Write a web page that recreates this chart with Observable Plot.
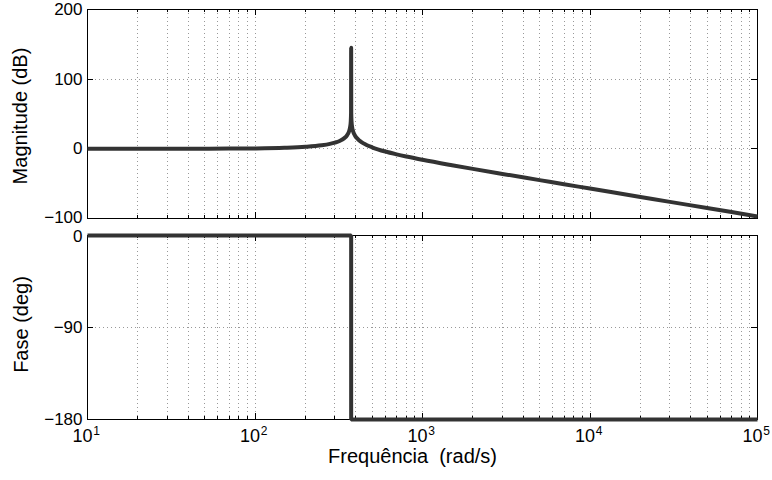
<!DOCTYPE html>
<html>
<head>
<meta charset="utf-8">
<script src="https://cdn.jsdelivr.net/npm/d3@7"></script>
<script src="https://cdn.jsdelivr.net/npm/@observablehq/plot@0.6"></script>
<style>
  html, body { margin: 0; padding: 0; background: #fff; }
  #chart { width: 772px; height: 480px; }
  #chart svg { display: block; }
</style>
</head>
<body>
<div id="chart"></div>
<script>
// ---- data ----
const freq = [10, 20, 30, 50, 70, 100, 150, 200, 250, 280, 300, 320, 340, 355, 365, 370, 373, 374.5, 375, 375.5, 377, 380, 385, 395, 410, 430, 460, 500, 600, 700, 800, 1000, 1500, 2000, 3000, 5000, 7000, 10000, 20000, 30000, 50000, 70000, 100000];
const magDb = [0.0, 0.0, 0.1, 0.2, 0.3, 0.6, 1.5, 2.9, 5.1, 7.1, 8.9, 11.3, 15.0, 19.7, 25.6, 31.5, 39.5, 51.5, 145, 51.5, 39.4, 31.4, 25.3, 19.2, 14.2, 10.0, 5.9, 2.2, -3.9, -7.9, -11.0, -15.7, -23.5, -28.8, -36.0, -44.9, -50.8, -57.0, -69.1, -76.1, -85.0, -90.8, -97.0];
const phaseFreq = [10, 375, 375, 100000];
const phaseDeg = [0, 0, -180, -180];

const xDecades = [10, 100, 1000, 10000, 100000];
const xExponents = ["1", "2", "3", "4", "5"];
const magTicks = [-100, 0, 100, 200];
const magTickLabels = ["\u2212100", "0", "100", "200"];
const phaseTicks = [-180, -90, 0];
const phaseTickLabels = ["\u2212180", "\u221290", "0"];

// ---- derived tables ----
const magData = freq.map((f, i) => ({f, v: magDb[i]}));
const phaseData = phaseFreq.map((f, i) => ({f, v: phaseDeg[i]}));
const magLabelData = magTicks.map((t, i) => ({t, s: magTickLabels[i]}));
const phaseLabelData = phaseTicks.map((t, i) => ({t, s: phaseTickLabels[i]}));
const minorX = [];
for (let d = 10; d < 100000; d *= 10) for (let m = 2; m <= 9; m++) minorX.push(d * m);
const innerMajorX = xDecades.slice(1, -1);
const decadeTable = xDecades.map((d, i) => ({d, e: xExponents[i]}));

const FONT = "'Liberation Sans', Arial, Helvetica, sans-serif";
const W = 772, ML = 87, MR = 15;
const PW = W - ML - MR;
const LINE = "#333333";
const GRID = {stroke: "#999999", strokeDasharray: "1,3", strokeWidth: 1, shapeRendering: "crispEdges"};
const TICK = {stroke: "#000", strokeWidth: 1, shapeRendering: "crispEdges"};
const MAJ = 6, MIN = 3;
const TICKFS = 17;

function tickMarks(ph, yTicks) {
  return [
    Plot.ruleX(xDecades, {x: d => d, insetTop: ph - MAJ, ...TICK}),
    Plot.ruleX(xDecades, {x: d => d, insetBottom: ph - MAJ, ...TICK}),
    Plot.ruleX(minorX, {x: d => d, insetTop: ph - MIN, ...TICK}),
    Plot.ruleX(minorX, {x: d => d, insetBottom: ph - MIN, ...TICK}),
    Plot.ruleY(yTicks, {y: d => d, insetRight: PW - MAJ, ...TICK}),
    Plot.ruleY(yTicks, {y: d => d, insetLeft: PW - MAJ, ...TICK})
  ];
}

// ---- top: magnitude ----
const topH = 226, topMT = 9, topMB = 8;
const topPH = topH - topMT - topMB;
const topPlot = Plot.plot({
  width: W, height: topH,
  marginLeft: ML, marginRight: MR, marginTop: topMT, marginBottom: topMB,
  style: {fontFamily: FONT, fontSize: "17px", background: "white", color: "#000", overflow: "visible"},
  x: {type: "log", domain: [10, 100000], axis: null},
  y: {domain: [-100, 200], axis: null},
  marks: [
    Plot.ruleX(minorX.concat(innerMajorX), {x: d => d, ...GRID}),
    Plot.ruleY([0, 100], {y: d => d, ...GRID}),
    ...tickMarks(topPH, magTicks),
    Plot.frame({stroke: "#000", strokeWidth: 1, shapeRendering: "crispEdges"}),
    Plot.text(magLabelData.filter(d => d.t > -100), {y: "t", frameAnchor: "left", text: "s", textAnchor: "end", dx: -5, fontSize: TICKFS, fill: "#000"}),
    Plot.text(magLabelData.filter(d => d.t === -100), {y: "t", frameAnchor: "left", text: "s", textAnchor: "end", dx: -5, dy: -1, fontSize: TICKFS, fill: "#000"}),
    Plot.text(["Magnitude (dB)"], {frameAnchor: "left", text: d => d, rotate: -90, textAnchor: "middle", dx: -67, dy: 2, fontSize: 20, fill: "#000"}),
    Plot.line(magData, {x: "f", y: "v", stroke: LINE, strokeWidth: 4, curve: "monotone-x", strokeLinecap: "butt", strokeLinejoin: "round"})
  ]
});

// ---- bottom: phase ----
const botH = 254, botMT = 9, botMB = 61;
const botPH = botH - botMT - botMB;
const botPlot = Plot.plot({
  width: W, height: botH,
  marginLeft: ML, marginRight: MR, marginTop: botMT, marginBottom: botMB,
  style: {fontFamily: FONT, fontSize: "17px", background: "white", color: "#000", overflow: "visible"},
  x: {type: "log", domain: [10, 100000], axis: null},
  y: {domain: [-180, 0], axis: null},
  marks: [
    Plot.ruleX(minorX.concat(innerMajorX), {x: d => d, ...GRID}),
    Plot.ruleY([-90], {y: d => d, ...GRID}),
    ...tickMarks(botPH, phaseTicks),
    Plot.frame({stroke: "#000", strokeWidth: 1, shapeRendering: "crispEdges"}),
    Plot.text(phaseLabelData.filter(d => d.t < 0), {y: "t", frameAnchor: "left", text: "s", textAnchor: "end", dx: -5, fontSize: TICKFS, fill: "#000"}),
    Plot.text(phaseLabelData.filter(d => d.t === 0), {y: "t", frameAnchor: "left", text: "s", textAnchor: "end", dx: -5, dy: 1.5, fontSize: TICKFS, fill: "#000"}),
    Plot.text(decadeTable, {x: "d", frameAnchor: "bottom", text: () => "10", textAnchor: "middle", dx: -5, dy: 22, fontSize: 18, fill: "#000"}),
    Plot.text(decadeTable, {x: "d", frameAnchor: "bottom", text: "e", textAnchor: "middle", dx: 9, dy: 15, fontSize: 12, fill: "#000"}),
    Plot.text(["Frequ\u00eancia\u00a0\u00a0(rad/s)"], {frameAnchor: "bottom", text: d => d, textAnchor: "middle", dx: -10, dy: 43, fontSize: 20, fill: "#000"}),
    Plot.text(["Fase (deg)"], {frameAnchor: "left", text: d => d, rotate: -90, textAnchor: "middle", dx: -66, dy: -3, fontSize: 20, fill: "#000"}),
    Plot.line(phaseData, {x: "f", y: "v", stroke: LINE, strokeWidth: 4, strokeLinecap: "butt", strokeLinejoin: "miter"})
  ]
});

const root = document.getElementById("chart");
root.appendChild(topPlot);
root.appendChild(botPlot);
</script>
</body>
</html>
